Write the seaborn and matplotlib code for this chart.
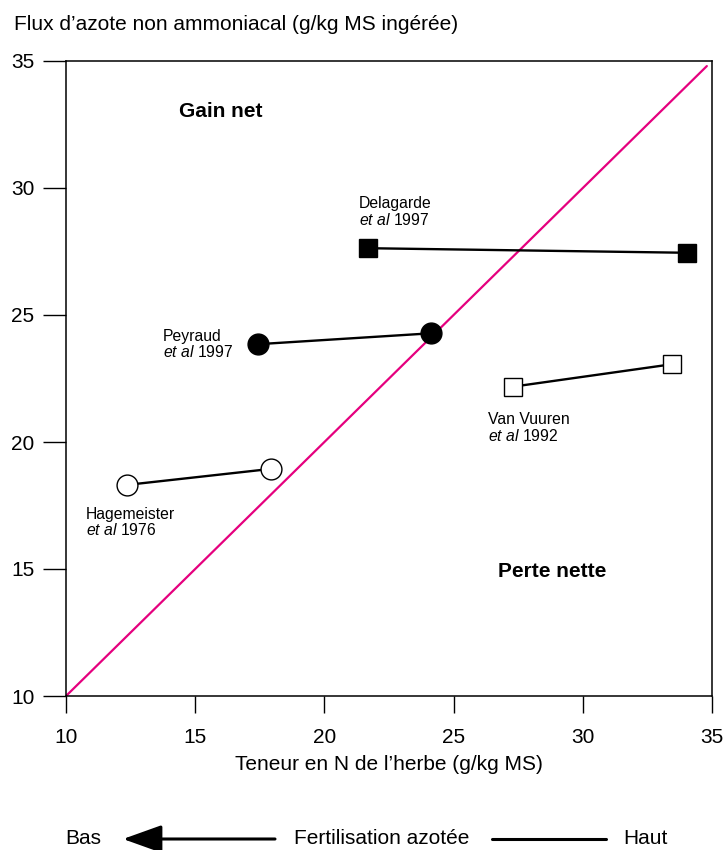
import matplotlib
matplotlib.use("Agg")
import matplotlib.pyplot as plt
import seaborn as sns
import pandas as pd
from matplotlib.lines import Line2D

sns.set_theme(
    style="white",
    rc={
        "axes.edgecolor": "black",
        "axes.linewidth": 1.1,
        "xtick.bottom": True,
        "ytick.left": True,
        "xtick.direction": "out",
        "ytick.direction": "out",
        "xtick.color": "black",
        "ytick.color": "black",
        "text.color": "black",
        "axes.labelcolor": "black",
        "mathtext.fontset": "custom",
        "mathtext.rm": "Liberation Sans",
        "mathtext.it": "Liberation Sans:italic",
    },
)
plt.rcParams["font.family"] = ["Liberation Sans", "DejaVu Sans"]

# data
studies = ["Hagemeister", "Peyraud", "Delagarde", "Van Vuuren"]
years = ["1976", "1997", "1997", "1992"]
n_herbe = {
    "Hagemeister": [12.35, 17.92],
    "Peyraud": [17.42, 24.13],
    "Delagarde": [21.68, 34.02],
    "Van Vuuren": [27.31, 33.44],
}
flux_n = {
    "Hagemeister": [18.31, 18.94],
    "Peyraud": [23.85, 24.28],
    "Delagarde": [27.63, 27.45],
    "Van Vuuren": [22.18, 23.06],
}
diag_x = [10, 34.8]
diag_y = [10, 34.8]
ticks = [10, 15, 20, 25, 30, 35]

# marker styles
styles = {
    "Hagemeister": dict(marker="o", markersize=15, markerfacecolor="white"),
    "Peyraud": dict(marker="o", markersize=15, markerfacecolor="black"),
    "Delagarde": dict(marker="s", markersize=13, markerfacecolor="black"),
    "Van Vuuren": dict(marker="s", markersize=12.5, markerfacecolor="white"),
}
# label anchors (left, middle of the two lines)
label_pos = {
    "Hagemeister": (10.77, 16.83),
    "Peyraud": (13.75, 23.84),
    "Delagarde": (21.34, 29.06),
    "Van Vuuren": (26.33, 20.55),
}

df = pd.concat(
    [pd.DataFrame({"study": s, "x": n_herbe[s], "y": flux_n[s]}) for s in studies],
    ignore_index=True,
)

fig = plt.figure(figsize=(7.28, 8.5), dpi=100)
ax = fig.add_axes([66 / 728, 1 - 696 / 850, 646 / 728, 635 / 850])

sns.lineplot(x=diag_x, y=diag_y, ax=ax, color="#e5007e", lw=1.6)

for s in studies:
    d = df[df["study"] == s]
    sns.lineplot(
        data=d, x="x", y="y", ax=ax, color="black", lw=1.7,
        markeredgecolor="black", markeredgewidth=1.0, **styles[s],
    )

for s, yr in zip(studies, years):
    lx, ly = label_pos[s]
    ax.text(lx, ly, s + "\n" + r"$\mathit{et\ al}$ " + yr, fontsize=11.3,
            ha="left", va="center", linespacing=1.05)

ax.text(16.0, 33.0, "Gain net", fontsize=15, fontweight="bold", ha="center", va="center")
ax.text(28.8, 14.9, "Perte nette", fontsize=15, fontweight="bold", ha="center", va="center")

ax.set_xlim(10, 35)
ax.set_ylim(10, 35)
ax.set_xticks(ticks)
ax.set_yticks(ticks)
ax.tick_params(axis="x", length=12.2, width=1.0, pad=11, labelsize=15)
ax.tick_params(axis="y", length=16.6, width=1.0, pad=6, labelsize=15)

ax.set_xlabel("Teneur en N de l\u2019herbe (g/kg MS)", fontsize=15)
ax.xaxis.label.set_va("center")
ax.xaxis.set_label_coords(0.5, (696 - 765) / 635)
ax.set_ylabel("Flux d\u2019azote non ammoniacal (g/kg MS ing\u00e9r\u00e9e)", fontsize=15,
              rotation=0, ha="left", va="center")
ax.yaxis.set_label_coords((14 - 66) / 646, (696 - 25) / 635)

for sp in ax.spines.values():
    sp.set_visible(True)
    sp.set_color("black")

# fertilisation arrow under the axis
yb = 1 - 839 / 850
fig.text(65 / 728, yb, "Bas", fontsize=15, ha="left", va="center")
fig.text(382 / 728, yb, "Fertilisation azot\u00e9e", fontsize=15, ha="center", va="center")
fig.text(623 / 728, yb, "Haut", fontsize=15, ha="left", va="center")
ax.annotate(
    "", xy=(123 / 728, yb), xytext=(275 / 728, yb), xycoords="figure fraction",
    textcoords="figure fraction",
    arrowprops=dict(arrowstyle="-|>,head_length=1.2,head_width=0.43", mutation_scale=20,
                    lw=2.2, color="black", shrinkA=0, shrinkB=0),
)
fig.add_artist(Line2D([492 / 728, 606 / 728], [yb, yb], transform=fig.transFigure,
                      color="black", lw=2.2))

fig.savefig("out.png", dpi=100)
